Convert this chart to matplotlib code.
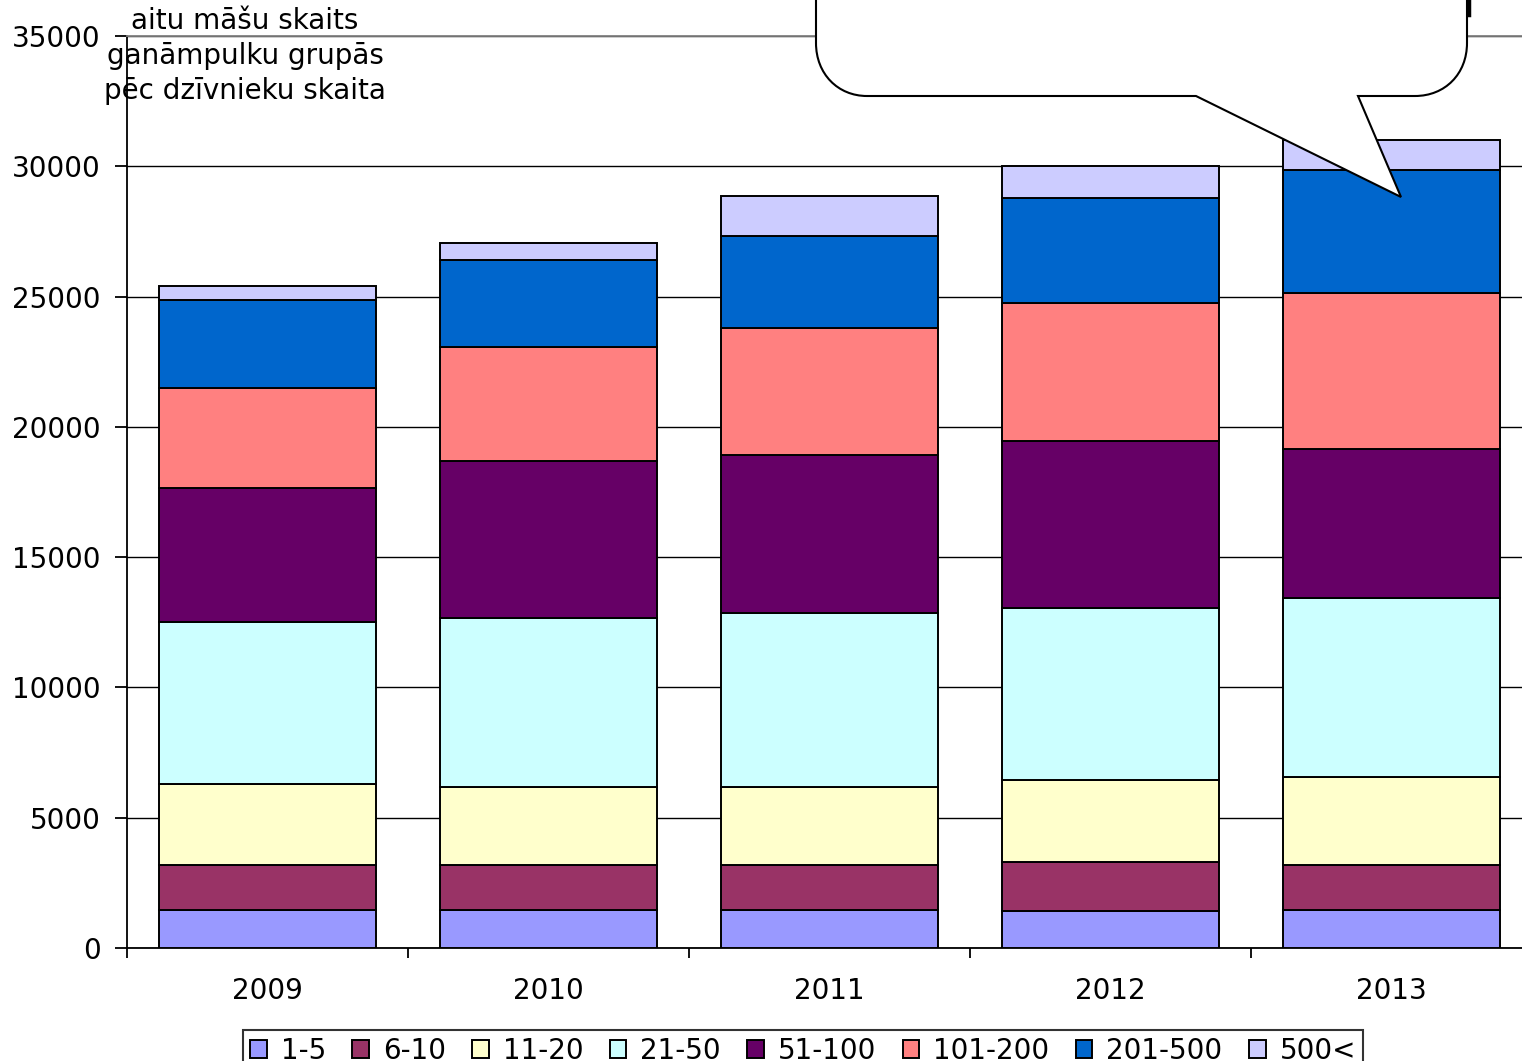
import matplotlib
matplotlib.use("Agg")
import matplotlib.pyplot as plt
import numpy as np
from matplotlib.path import Path
from matplotlib.patches import PathPatch
from matplotlib.lines import Line2D

years = ["2009", "2010", "2011", "2012", "2013"]
groups = ["1-5", "6-10", "11-20", "21-50", "51-100", "101-200", "201-500", "500<"]
colors = ["#9999FF", "#993366", "#FFFFCC", "#CCFFFF", "#660066", "#FF8080", "#0066CC", "#CCCCFF"]

# values per group for each year
v_1_5     = [1460, 1460, 1460, 1420, 1460]
v_6_10    = [1725, 1725, 1725, 1880, 1725]
v_11_20   = [3110, 2990, 2990, 3150, 3380]
v_21_50   = [6215, 6485, 6680, 6600, 6870]
v_51_100  = [5140, 6025, 6060, 6410, 5720]
v_101_200 = [3840, 4375, 4875, 5295, 5985]
v_201_500 = [3375, 3340, 3530, 4030, 4720]
v_500     = [540, 650, 1535, 1230, 1150]
series = [v_1_5, v_6_10, v_11_20, v_21_50, v_51_100, v_101_200, v_201_500, v_500]

plt.rcParams['font.family'] = ['DejaVu Sans']
W, H = 1522, 1061
fig = plt.figure(figsize=(W / 100, H / 100), dpi=100)
FS = 20

ax_left, ax_right = 127, 1532
ax_top, ax_bot = 36, 948
ax = fig.add_axes([ax_left / W, 1 - ax_bot / H, (ax_right - ax_left) / W, (ax_bot - ax_top) / H])

x = np.arange(len(years))
bottom = np.zeros(len(years))
handles = []
for vals, col, lab in zip(series, colors, groups):
    b = ax.bar(x, vals, width=0.77, bottom=bottom, color=col, edgecolor="black",
               linewidth=1.4, label=lab, zorder=3)
    bottom += np.array(vals)
    handles.append(b)

ax.set_xlim(-0.5, 4.5)
ax.set_ylim(0, 35000)
ax.set_yticks(np.arange(0, 35001, 5000))
ax.yaxis.grid(True, color="black", linewidth=1.0, zorder=0)
ax.set_axisbelow(True)
ax.spines["right"].set_visible(False)
ax.spines["top"].set_color("#808080")
ax.spines["top"].set_linewidth(1.3)
ax.spines["left"].set_linewidth(1.3)
ax.spines["bottom"].set_linewidth(1.3)
ax.tick_params(axis="y", direction="out", length=9, width=1.3, pad=10, labelsize=FS)
ax.set_xticks(x)
ax.set_xticklabels(years)
ax.set_xticks(np.arange(-0.5, 5.0, 1.0), minor=True)
ax.tick_params(axis="x", which="major", length=0, pad=21, labelsize=FS)
ax.tick_params(axis="x", which="minor", direction="out", length=7, width=1.3)

# title text
fig.text(245 / W, 1 - 56 / H, "aitu māšu skaits\nganāmpulku grupās\npēc dzīvnieku skaita",
         ha="center", va="center", fontsize=FS, linespacing=1.3)

# legend
leg = fig.legend(handles=handles, labels=groups, loc="upper center",
                 bbox_to_anchor=(803 / W, 1 - 1030 / H), ncol=8, fontsize=FS,
                 frameon=True, fancybox=False, edgecolor="black",
                 handlelength=0.6, handleheight=0.6, handletextpad=0.5,
                 columnspacing=0.95, borderpad=0.25, borderaxespad=0)
leg.get_frame().set_linewidth(1.5)

# callout
def P(px, py):
    return (px / W, 1 - py / H)

verts = [P(1196, 96), P(1401, 197), P(1358, 96), P(1415, 96),
         P(1445, 96), P(1467, 74), P(1467, 43),
         P(1467, -30), P(816, -30), P(816, 43),
         P(816, 74), P(838, 96), P(867, 96), P(1196, 96)]
codes = [Path.MOVETO, Path.LINETO, Path.LINETO, Path.LINETO,
         Path.CURVE4, Path.CURVE4, Path.CURVE4,
         Path.LINETO, Path.LINETO, Path.LINETO,
         Path.CURVE4, Path.CURVE4, Path.CURVE4, Path.CLOSEPOLY]
fig.add_artist(PathPatch(Path(verts, codes), facecolor="white", edgecolor="black",
                         linewidth=1.5, transform=fig.transFigure, zorder=10))
fig.add_artist(Line2D([1469 / W, 1469 / W], [1.0, 1 - 15 / H], color="black",
                      linewidth=2.5, transform=fig.transFigure, zorder=11))

fig.savefig("out.png", dpi=100)
